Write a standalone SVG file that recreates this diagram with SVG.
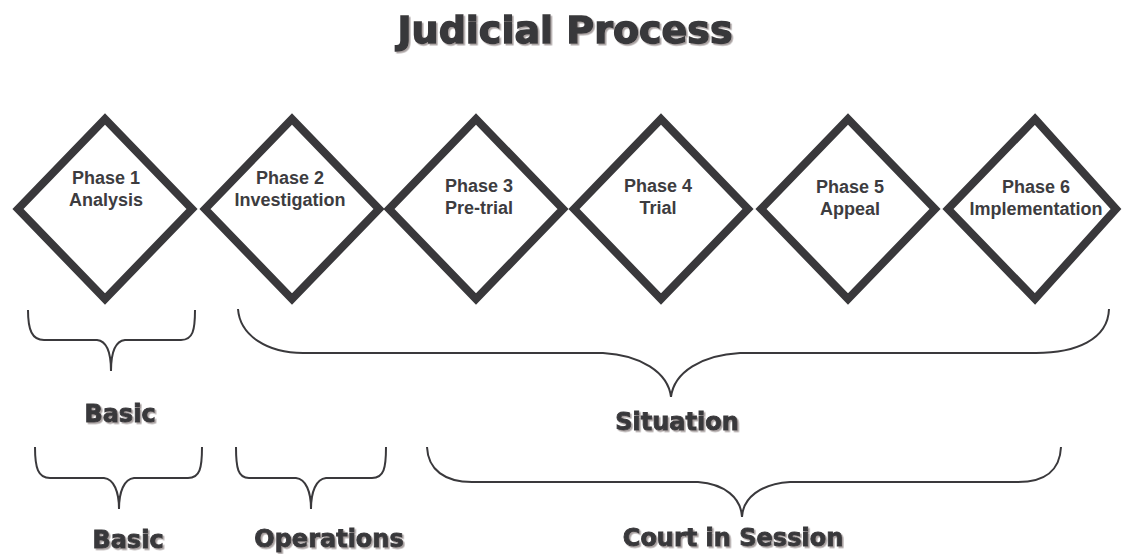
<svg xmlns="http://www.w3.org/2000/svg" width="1125" height="554" viewBox="0 0 1125 554">
  <defs>
    <filter id="sh" x="-10%" y="-30%" width="120%" height="160%">
      <feDropShadow dx="1.6" dy="1.6" stdDeviation="0.6" flood-color="#a8a0a0" flood-opacity="1"/>
    </filter>
  </defs>
  <style>
    .dia { fill: #ffffff; stroke: #39383b; stroke-width: 8; stroke-linejoin: miter; stroke-miterlimit: 10; }
    .ph { font-family: "Liberation Sans", Arial, sans-serif; font-weight: bold; font-size: 18px; fill: #3d3c3f; text-anchor: middle; }
    .br { fill: none; stroke: #3a393c; stroke-width: 2; }
    .lbl { font-family: "DejaVu Sans", sans-serif; font-weight: bold; font-size: 24px; fill: #39383b; stroke: #39383b; stroke-width: 0.9; text-anchor: middle; filter: url(#sh); }
    .title { font-family: "DejaVu Sans", sans-serif; font-weight: bold; font-size: 38px; fill: #39383b; stroke: #39383b; stroke-width: 1.4; text-anchor: middle; filter: url(#sh); }
  </style>
  <rect width="1125" height="554" fill="#ffffff"/>
  <text class="title" x="565" y="43">Judicial Process</text>

  <g id="phase1">
    <polygon class="dia" points="105,119 192,209 105,299 18,209"/>
    <text class="ph" x="106" y="184">Phase 1</text>
    <text class="ph" x="106" y="206">Analysis</text>
  </g>
  <g id="phase2">
    <polygon class="dia" points="292,119 379,209 292,299 205,209"/>
    <text class="ph" x="290" y="184">Phase 2</text>
    <text class="ph" x="290" y="206">Investigation</text>
  </g>
  <g id="phase3">
    <polygon class="dia" points="476,119 563,209 476,299 389,209"/>
    <text class="ph" x="479" y="192">Phase 3</text>
    <text class="ph" x="479" y="214">Pre-trial</text>
  </g>
  <g id="phase4">
    <polygon class="dia" points="661,119 748,209 661,299 574,209"/>
    <text class="ph" x="658" y="192">Phase 4</text>
    <text class="ph" x="658" y="214">Trial</text>
  </g>
  <g id="phase5">
    <polygon class="dia" points="848,119 935,209 848,299 761,209"/>
    <text class="ph" x="850" y="193">Phase 5</text>
    <text class="ph" x="850" y="215">Appeal</text>
  </g>
  <g id="phase6">
    <polygon class="dia" points="1035,119 1116,209 1035,299 948,209"/>
    <text class="ph" x="1036" y="193">Phase 6</text>
    <text class="ph" x="1036" y="215">Implementation</text>
  </g>

  <g id="connectors">
    <path class="br" d="M28,310 C28,330 32,340 44,340 L97,340 C106,341 111,352 111,371 C111,352 116,341 125,340 L181,340 C193,340 195,330 195,310"/>
    <path class="br" d="M238,309 C240,336 268,353 303,353 L603,353 C640,355 668,372 671,397 C674,372 702,355 740,353 L1036,353 C1075,353 1108,340 1109,309"/>
    <path class="br" d="M35,447 C35,468 38,478 50,478 L104,478 C114,479 119,492 119,509 C119,492 124,479 134,478 L188,478 C200,478 202,468 202,447"/>
    <path class="br" d="M236,447 C236,468 238,478 249,478 L296,478 C306,479 311,492 311,509 C311,492 316,479 326,478 L372,478 C384,478 386,468 386,447"/>
    <path class="br" d="M427,447 C428,470 445,482 472,482 L698,482 C725,484 741,498 742,517 C743,498 760,484 790,482 L1018,482 C1045,482 1060,470 1061,447"/>
  </g>

  <g id="labels">
    <text class="lbl" x="120" y="422">Basic</text>
    <text class="lbl" x="677" y="430">Situation</text>
    <text class="lbl" x="128" y="548">Basic</text>
    <text class="lbl" x="329" y="547">Operations</text>
    <text class="lbl" x="733" y="546">Court in Session</text>
  </g>
</svg>
